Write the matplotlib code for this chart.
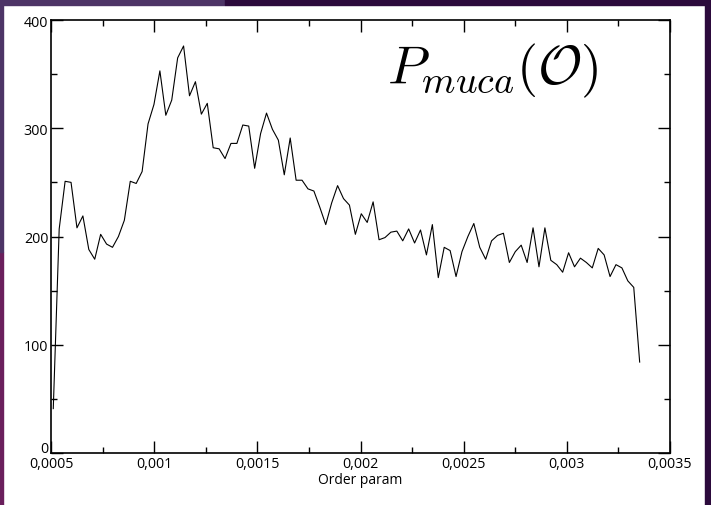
import numpy as np
import matplotlib
matplotlib.use("Agg")
import matplotlib.pyplot as plt
from matplotlib.patches import Rectangle
from matplotlib.ticker import MultipleLocator
from matplotlib.transforms import ScaledTranslation

plt.rcParams['font.family'] = ['Open Sans', 'DejaVu Sans']
plt.rcParams['mathtext.fontset'] = 'cm'

# histogram of the order parameter (muca weights), 100 evenly spaced bins
order_param = np.linspace(0.000511, 0.003353, 100)
p_muca = [41, 207, 251, 250, 208, 219, 188, 179, 202, 193,
          190, 200, 215, 251, 249, 260, 304, 322, 353, 312,
          326, 365, 376, 330, 343, 313, 323, 282, 281, 272,
          286, 286, 303, 302, 263, 295, 314, 299, 289, 257,
          291, 252, 252, 244, 242, 227, 211, 231, 247, 235,
          229, 202, 221, 213, 232, 197, 199, 204, 205, 196,
          207, 194, 206, 183, 211, 162, 190, 187, 163, 186,
          200, 212, 190, 179, 196, 201, 203, 176, 186, 192,
          176, 208, 172, 208, 178, 174, 167, 185, 172, 180,
          176, 171, 189, 183, 163, 174, 171, 159, 153, 84]

xticks = [0.0005, 0.001, 0.0015, 0.002, 0.0025, 0.003, 0.0035]
xtick_labels = ["0,0005", "0,001", "0,0015", "0,002", "0,0025", "0,003", "0,0035"]
yticks = [0, 100, 200, 300, 400]

fig = plt.figure(figsize=(7.11, 5.06), dpi=100)
fig.patch.set_facecolor("white")

# slide background showing round the edges
W, H = 711, 506
fig.patches.append(Rectangle((0, 1 - 6 / H), 225 / W, 6 / H, transform=fig.transFigure,
                             color="#4d3466", zorder=0))
fig.patches.append(Rectangle((225 / W, 1 - 6 / H), 1 - 225 / W, 6 / H, transform=fig.transFigure,
                             color="#2c0a3c", zorder=0))
fig.patches.append(Rectangle((0, 0), 3 / W, 0.5, transform=fig.transFigure,
                             color="#6a1f5c", zorder=0))
fig.patches.append(Rectangle((0, 0.5), 3 / W, 0.5, transform=fig.transFigure,
                             color="#4d3466", zorder=0))
fig.patches.append(Rectangle((1 - 6 / W, 0), 6 / W, 1, transform=fig.transFigure,
                             color="#2c0a3c", zorder=0))

ax = fig.add_axes([51 / W, 1 - 454 / H, 619 / W, 433 / H])
ax.plot(order_param, p_muca, color="black", lw=0.8)

ax.set_xlim(0.0005, 0.0035)
ax.set_ylim(0, 400)
ax.set_xticks(xticks)
ax.set_xticklabels(xtick_labels)
ax.set_yticks(yticks)
ax.xaxis.set_minor_locator(MultipleLocator(0.00025))
ax.yaxis.set_minor_locator(MultipleLocator(50))
ax.tick_params(which="both", direction="in", top=True, right=True, labelsize=10.3, width=1)
ax.tick_params(which="major", length=8.5, pad=2)
ax.tick_params(which="minor", length=4.3)
for s in ax.spines.values():
    s.set_linewidth(1.2)

# the "0" on the y axis sits a little higher, clear of the x labels
ylab0 = ax.get_yticklabels()[0]
ylab0.set_transform(ylab0.get_transform() + ScaledTranslation(0, 5 / 72, fig.dpi_scale_trans))

ax.set_xlabel("Order param", fontsize=10, labelpad=1)
ax.text(0.884, 0.885, r"$P_{muca}(\mathcal{O})$", transform=ax.transAxes,
        fontsize=39, ha="right", va="center")

fig.savefig("out.png", dpi=100)
